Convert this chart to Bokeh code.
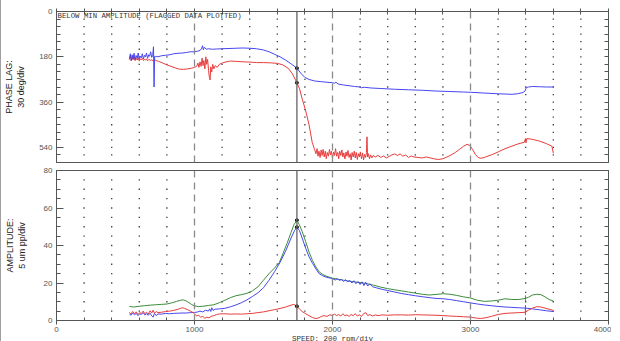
from bokeh.plotting import figure
from bokeh.models import Range1d, FixedTicker, LinearAxis, Span, Label
from bokeh.layouts import column
from bokeh.embed import file_html
from bokeh.resources import INLINE
import numpy as np

# ---------------- data ----------------
CURSOR_RPM = 1742
x_major = [0, 1000, 2000, 3000, 4000]
x_minor = list(range(0, 4001, 200))
phase_major = [0, 180, 360, 540]
phase_minor = list(range(0, 601, 30))
amp_major = [0, 20, 40, 60, 80]
amp_minor = list(range(0, 81, 5))

pb_rpm = [528,535,542,548,555,562,570,577,585,592,600,608,615,622,630,638,645,652,660,668,675,682,690,697,703,707,711,716,722,735,760,790,820,850,880,910,940,970,1000,1020,1040,1052,1058,1064,1072,1085,1100,1130,1160,1200,1250,1300,1350,1400,1450,1500,1540,1580,1620,1660,1700,1742,1770,1800,1830,1870,1920,1960,2000,2015,2025,2040,2080,2120,2160,2200,2210,2230,2280,2350,2450,2550,2650,2750,2850,2950,3000,3100,3200,3300,3340,3380,3395,3405,3420,3450,3500,3550,3600]
pb_deg = [190,168,195,172,188,166,192,175,186,165,190,178,184,168,188,174,180,165,186,172,178,160,182,175,140,300,178,180,178,180,176,174,172,168,166,165,163,160,160,158,155,146,136,152,142,150,148,150,149,148,147,146,145,146,148,153,160,170,180,193,208,225,245,262,270,276,279,281,283,285,281,288,292,295,298,300,303,301,304,306,309,311,313,316,318,320,321,324,327,329,327,322,316,302,300,298,299,300,300]

pr_rpm = [528,535,542,548,555,562,570,577,585,592,600,608,615,622,630,638,645,652,660,670,680,690,700,710,720,740,770,800,830,860,890,920,950,980,1000,1015,1025,1032,1040,1048,1055,1062,1068,1075,1082,1088,1095,1102,1108,1113,1118,1125,1132,1140,1150,1165,1180,1200,1230,1260,1300,1350,1400,1450,1500,1550,1600,1640,1680,1710,1742,1760,1782,1806,1830,1853,1870,1880,1888,1895,1902,1910,1918,1925,1932,1940,1948,1955,1962,1970,1978,1985,1992,2000,2008,2015,2022,2030,2038,2045,2052,2060,2068,2075,2082,2090,2098,2105,2112,2120,2128,2135,2142,2150,2158,2165,2172,2180,2188,2195,2202,2210,2218,2225,2232,2240,2246,2250,2254,2260,2268,2276,2285,2295,2310,2330,2350,2370,2390,2410,2430,2450,2470,2490,2510,2530,2550,2570,2590,2620,2650,2680,2710,2740,2770,2800,2830,2860,2890,2920,2950,2975,2995,3015,3035,3055,3075,3100,3150,3200,3250,3300,3350,3390,3398,3402,3408,3450,3500,3550,3590,3600]
pr_deg = [190,178,196,183,192,180,195,186,193,184,197,188,192,186,195,190,193,188,196,190,194,192,196,190,195,198,205,212,218,224,229,230,228,225,222,218,205,222,200,218,185,215,195,228,180,210,190,235,262,272,220,240,210,228,215,222,210,205,200,197,198,200,201,203,203,204,206,212,226,248,283,305,350,395,450,520,548,565,545,575,555,580,550,572,548,578,555,585,560,575,548,570,555,582,558,572,545,575,560,585,555,572,550,578,562,586,558,575,552,580,565,590,560,578,555,582,560,588,565,578,558,585,562,590,568,580,560,498,578,565,585,570,582,572,578,572,580,574,582,576,570,566,572,566,575,570,580,574,578,580,582,578,582,586,588,585,578,570,560,548,535,528,532,548,568,580,583,580,570,558,545,535,525,520,505,522,505,508,515,525,535,563]

ag_rpm = [528,560,600,640,680,720,760,800,840,870,900,920,940,960,980,1000,1030,1060,1100,1140,1180,1220,1260,1300,1340,1380,1420,1460,1500,1540,1580,1614,1640,1670,1700,1720,1742,1760,1780,1806,1830,1855,1880,1903,1930,1960,2000,2040,2080,2120,2160,2200,2241,2300,2350,2400,2450,2500,2550,2600,2650,2700,2750,2800,2850,2900,2950,3000,3050,3100,3150,3200,3250,3300,3350,3398,3420,3450,3480,3510,3540,3570,3600]
ag_amp = [7.5,7.2,7.6,7.9,8.2,8.4,8.6,8.8,9.5,10.2,10.8,11.0,10.4,9.5,8.5,7.8,7.4,7.6,8.0,8.4,9.5,10.8,12.2,13.2,13.8,14.5,15.8,18.0,21.5,25.0,28.0,30.8,35.5,41.0,47.0,51.0,53.5,51.0,47.5,42.0,36.5,32.0,28.5,26.0,24.5,23.5,22.6,22.0,21.5,21.0,20.6,20.2,19.8,18.8,17.8,17.0,16.4,15.8,15.2,14.6,14.0,13.6,13.9,14.3,14.0,13.4,12.6,12.0,10.8,10.2,10.4,10.8,11.6,11.2,11.2,11.8,12.4,13.6,14.0,13.8,12.6,11.2,10.4]

ab_rpm = [528,540,552,565,578,590,603,615,628,640,652,665,678,690,700,710,722,735,760,790,820,850,880,910,940,970,1000,1020,1040,1060,1080,1100,1110,1118,1125,1135,1150,1180,1220,1260,1300,1340,1380,1420,1460,1500,1540,1580,1620,1660,1700,1725,1742,1760,1780,1806,1830,1855,1880,1903,1930,1960,2000,2020,2035,2050,2065,2080,2095,2110,2125,2140,2155,2170,2185,2200,2215,2228,2241,2255,2270,2290,2320,2360,2400,2450,2500,2550,2600,2650,2700,2750,2800,2850,2900,2950,3000,3050,3100,3150,3200,3250,3300,3350,3400,3450,3500,3550,3600]
ab_amp = [3.5,2.8,4.0,3.0,3.8,2.6,3.5,3.2,4.2,3.0,3.6,2.8,3.9,2.5,1.8,3.8,2.6,3.5,3.4,3.8,3.6,3.8,3.9,4.0,4.0,4.2,4.3,4.5,5.0,4.6,5.5,5.0,6.2,4.8,6.8,5.4,6.0,6.2,6.5,7.3,8.3,9.5,11.0,12.8,14.8,17.5,21.5,26.0,31.0,37.0,44.0,48.0,49.8,48.0,44.0,38.5,34.0,30.5,27.5,25.0,23.8,23.0,22.4,21.6,22.3,21.4,22.0,20.8,21.8,20.6,21.4,20.0,21.2,19.6,20.8,19.2,20.6,18.6,20.4,18.4,19.6,18.0,17.4,16.6,16.0,15.2,14.4,13.8,13.2,12.7,12.2,11.8,11.6,11.2,10.6,10.0,9.4,8.8,8.3,7.9,7.5,7.2,7.0,6.8,6.6,6.2,5.7,5.2,4.8]

ar_rpm = [528,540,552,565,578,590,603,615,628,640,652,665,678,690,700,710,722,735,760,790,820,850,880,900,914,930,950,970,990,1000,1015,1030,1045,1060,1075,1090,1105,1120,1140,1160,1180,1220,1260,1300,1340,1380,1420,1460,1500,1540,1580,1620,1660,1700,1720,1742,1760,1780,1806,1830,1855,1879,1900,1920,1940,1960,1980,2000,2015,2030,2045,2060,2075,2090,2105,2120,2135,2150,2165,2180,2195,2210,2225,2241,2255,2270,2290,2310,2330,2360,2400,2450,2500,2550,2600,2650,2700,2750,2800,2850,2900,2950,3000,3050,3080,3120,3160,3200,3250,3300,3350,3398,3420,3450,3480,3510,3540,3570,3600]
ar_amp = [4.4,3.5,4.8,3.6,4.6,3.2,4.2,3.8,5.0,3.6,4.4,3.4,5.2,4.0,5.5,3.8,4.8,4.2,4.4,4.8,5.0,5.4,6.0,6.5,6.8,6.4,5.8,5.0,4.2,3.6,2.4,2.8,1.8,2.2,1.2,1.8,1.4,2.2,2.6,3.2,3.5,3.6,3.4,3.5,3.4,3.6,3.8,4.2,4.6,5.2,5.8,6.4,7.2,8.2,8.6,7.6,6.2,4.8,3.6,2.6,1.6,1.0,1.4,2.2,2.6,2.2,3.0,2.8,3.4,2.6,3.2,2.4,3.6,2.6,3.0,2.2,3.2,2.6,3.6,2.4,3.0,2.2,3.6,4.2,2.6,3.2,2.4,3.0,2.6,3.0,2.8,3.0,3.0,2.9,3.1,3.0,2.9,2.8,2.6,2.4,2.2,2.0,1.8,1.2,1.1,1.6,2.4,3.2,3.8,4.0,4.2,4.4,5.5,6.6,7.4,7.2,6.6,6.0,5.4]

BLUE = "#4646f0"
RED = "#e83c3c"
GREEN = "#3c8c3c"
AX = "#555555"
TICK_FONT = "Liberation Sans"

FRAME_W = 552


def base(frame_h, y_range, yticks, yminor, ylabel, label_standoff, x_loc, top_b, bot_b):
    p = figure(frame_width=FRAME_W, frame_height=frame_h, x_range=Range1d(0, 4000), y_range=y_range,
               output_backend="svg", toolbar_location=None, x_axis_location=x_loc,
               min_border_left=48, min_border_right=3, min_border_top=top_b, min_border_bottom=bot_b)
    p.xgrid.visible = False
    p.ygrid.visible = False
    p.outline_line_color = AX
    p.background_fill_color = "white"
    p.border_fill_color = "white"
    # left axis
    ya = p.yaxis[0]
    ya.ticker = FixedTicker(ticks=yticks, minor_ticks=yminor)
    ya.major_tick_in = 7
    ya.major_tick_out = 0
    ya.minor_tick_in = 4
    ya.minor_tick_out = 0
    ya.axis_line_color = AX
    ya.major_tick_line_color = AX
    ya.minor_tick_line_color = AX
    ya.major_label_text_font = TICK_FONT
    ya.major_label_text_font_size = "8px"
    ya.major_label_text_color = "#555555"
    ya.major_label_standoff = 4
    ya.axis_label = ylabel
    ya.axis_label_text_font = "Liberation Sans"
    ya.axis_label_text_font_size = "9px"
    ya.axis_label_text_font_style = "normal"
    ya.axis_label_text_color = "#222222"
    ya.axis_label_standoff = label_standoff
    # right axis: ticks only, no labels
    ra = LinearAxis(ticker=FixedTicker(ticks=[], minor_ticks=yminor),
                    major_tick_in=4, major_tick_out=0, minor_tick_in=4, minor_tick_out=0,
                    major_label_standoff=0,
                    axis_line_color=AX, major_tick_line_color=AX, minor_tick_line_color=AX)
    p.add_layout(ra, "right")
    # x axis
    xa = p.xaxis[0]
    xa.axis_line_color = AX
    xa.major_tick_line_color = AX
    xa.minor_tick_line_color = AX
    # dotted lattice grid + dashed decade lines + cursor
    gx = [v for v in x_minor if v % 1000 != 0]
    gy = [v for v in yminor if v != yminor[0] and v != yminor[-1]]
    lx = [a for a in gx for b in gy]
    ly = [b for a in gx for b in gy]
    p.scatter(lx, ly, marker="square", size=1.3, color="#3a3a3a", line_color=None)
    for v in x_major[1:-1]:
        p.add_layout(Span(location=v, dimension="height", line_color="#8a8a8a",
                          line_dash="7 5", line_width=1.3))
    p.add_layout(Span(location=CURSOR_RPM, dimension="height", line_color="#6e6e6e",
                      line_width=1.4))
    return p


# ---------- top: phase ----------
top = base(151, Range1d(600, 0), phase_major, phase_minor, "PHASE LAG:\n30 deg/div", 10, "above", 11, 4)
xa = top.xaxis[0]
xa.ticker = FixedTicker(ticks=[], minor_ticks=x_minor)
xa.major_label_standoff = 0
xa.minor_tick_in = 3
xa.minor_tick_out = 3

top.line(pr_rpm, pr_deg, color=RED, line_width=1)
top.line(pb_rpm, pb_deg, color=BLUE, line_width=1)
top.scatter([CURSOR_RPM, CURSOR_RPM],
            [float(np.interp(CURSOR_RPM, pb_rpm, pb_deg)), float(np.interp(CURSOR_RPM, pr_rpm, pr_deg))],
            size=3, color="#111111")
top.add_layout(Label(x=8, y=2, text="BELOW MIN AMPLITUDE (FLAGGED DATA PLOTTED)",
                     text_font="Liberation Mono", text_font_size="7.3px",
                     text_color="#333333", text_baseline="top"))

# ---------- bottom: amplitude ----------
bot = base(150, Range1d(0, 80), amp_major, amp_minor, "AMPLITUDE:\n5 um pp/div", 14, "below", 4, 20)
xb = bot.xaxis[0]
xb.ticker = FixedTicker(ticks=x_major, minor_ticks=x_minor)
xb.major_tick_in = 3
xb.major_tick_out = 4
xb.minor_tick_in = 3
xb.minor_tick_out = 0
xb.major_label_text_font = TICK_FONT
xb.major_label_text_font_size = "8px"
xb.major_label_text_color = "#555555"
xb.major_label_standoff = 2
xb.axis_label = "SPEED: 200 rpm/div"
xb.axis_label_text_font = "Liberation Mono"
xb.axis_label_text_font_size = "7.5px"
xb.axis_label_text_font_style = "normal"
xb.axis_label_text_color = "#333333"
xb.axis_label_standoff = 0

bot.line(ag_rpm, ag_amp, color=GREEN, line_width=1)
bot.line(ab_rpm, ab_amp, color=BLUE, line_width=1)
bot.line(ar_rpm, ar_amp, color=RED, line_width=1)
bot.scatter([CURSOR_RPM] * 3,
            [float(np.interp(CURSOR_RPM, ag_rpm, ag_amp)),
             float(np.interp(CURSOR_RPM, ab_rpm, ab_amp)),
             float(np.interp(CURSOR_RPM, ar_rpm, ar_amp))],
            size=3, color="#111111")
m = 3398
bot.scatter([m, m, m], [float(np.interp(m, ag_rpm, ag_amp)), float(np.interp(m, ab_rpm, ab_amp)),
                        float(np.interp(m, ar_rpm, ar_amp))],
            marker="dash", angle=1.5708, size=6, color=[GREEN, BLUE, RED])

layout = column(top, bot, spacing=0, styles={"border-left": "1px solid #a0a0a0"})
open("out.html", "w").write(file_html(layout, INLINE))
